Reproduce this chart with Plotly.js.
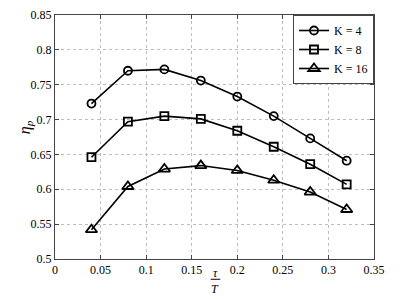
<!DOCTYPE html>
<html><head><meta charset="utf-8">
<script src="https://cdn.plot.ly/plotly-3.0.1.min.js"></script>
<style>body{margin:0;background:#fff}</style>
</head><body><div id="chart" style="width:411px;height:299px"></div>
<script>
const tau = [0.04, 0.08, 0.12, 0.16, 0.20, 0.24, 0.28, 0.32];
const k4  = [0.723, 0.770, 0.772, 0.756, 0.733, 0.705, 0.673, 0.641];
const k8  = [0.646, 0.697, 0.705, 0.701, 0.684, 0.661, 0.636, 0.607];
const k16 = [0.542, 0.604, 0.629, 0.634, 0.627, 0.613, 0.596, 0.571];
const names = ['K = 4', 'K = 8', 'K = 16'];
const symbols = ['circle-open', 'square-open', 'triangle-up-open'];
const series = [k4, k8, k16];
const font = 'Liberation Serif';

const traces = series.map((ys, i) => ({
  x: tau, y: ys, name: names[i], type: 'scatter', mode: 'lines+markers',
  line: {color: '#000', width: 1.6},
  marker: {symbol: symbols[i], size: i === 2 ? 10 : 8, color: '#000', line: {color: '#000', width: 1.8}}
}));

const axisCommon = {
  showline: true, linecolor: '#444', linewidth: 1, mirror: 'ticks',
  ticks: 'inside', ticklen: 4, tickcolor: '#444',
  showgrid: true, gridcolor: '#bdbdbd', griddash: 'dot', gridwidth: 1,
  zeroline: false, tickfont: {family: font, size: 12, color: '#000'}
};

const layout = {
  width: 411, height: 299,
  margin: {l: 55, r: 37, t: 15, b: 40},
  paper_bgcolor: '#fff', plot_bgcolor: '#fff',
  font: {family: font, color: '#000'},
  xaxis: Object.assign({}, axisCommon, {range: [0, 0.35], tickvals: [0,0.05,0.1,0.15,0.2,0.25,0.3,0.35], ticktext: ['0','0.05','0.1','0.15','0.2','0.25','0.3','0.35']}),
  yaxis: Object.assign({}, axisCommon, {range: [0.5, 0.85], tickvals: [0.5,0.55,0.6,0.65,0.7,0.75,0.8,0.85], ticktext: ['0.5','0.55','0.6','0.65','0.7','0.75','0.8','0.85']}),
  showlegend: true,
  legend: {x: 1, y: 1, xanchor: 'right', yanchor: 'top', bordercolor: '#444', borderwidth: 1,
    bgcolor: '#fff', font: {family: font, size: 12, color: '#000'}, tracegroupgap: 0},
  annotations: [
    {text: '<i>η</i><sub><i>p</i></sub>', xref: 'paper', yref: 'paper', x: -0.094, y: 0.54, xanchor: 'center', yanchor: 'middle',
      textangle: -90, showarrow: false, font: {family: font, size: 16, color: '#000'}},
    {text: '<i>τ</i>', xref: 'paper', yref: 'paper', x: 0.502, y: -0.058, xanchor: 'center', yanchor: 'middle', showarrow: false, font: {family: font, size: 12, color: '#000'}},
    {text: '<i>T</i>', xref: 'paper', yref: 'paper', x: 0.502, y: -0.122, xanchor: 'center', yanchor: 'middle', showarrow: false, font: {family: font, size: 12, color: '#000'}}
  ],
  shapes: [
    {type: 'line', xref: 'paper', yref: 'paper', x0: 0.488, x1: 0.518, y0: -0.083, y1: -0.083, line: {color: '#000', width: 1}}
  ]
};
Plotly.newPlot('chart', traces, layout, {displayModeBar: false, staticPlot: true});
</script></body></html>
